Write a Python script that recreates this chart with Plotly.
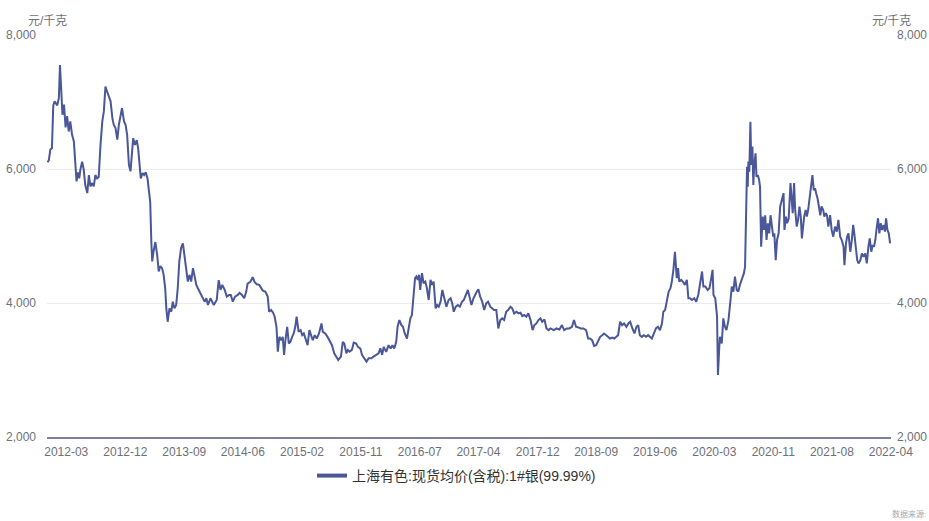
import plotly.graph_objects as go

# ---------------- data ----------------
series_name = "上海有色:现货均价(含税):1#银(99.99%)"
unit_label = "元/千克"
source_label = "数据来源:"

dates_2011 = ["2011-12-08", "2011-12-14", "2011-12-21", "2011-12-28"]
price_2011 = [6100, 6130, 6290, 6310]

dates_2012 = ["2012-01-03", "2012-01-09", "2012-01-21", "2012-01-28",
              "2012-02-02", "2012-02-08", "2012-02-13", "2012-02-20", "2012-02-27",
              "2012-03-05", "2012-03-12", "2012-03-19", "2012-03-27",
              "2012-04-04", "2012-04-11", "2012-04-16", "2012-04-22", "2012-04-28",
              "2012-05-03", "2012-05-11", "2012-05-18", "2012-05-25",
              "2012-06-03", "2012-06-10", "2012-06-17", "2012-06-25",
              "2012-07-02", "2012-07-09", "2012-07-17", "2012-07-24",
              "2012-08-01", "2012-08-09", "2012-08-16", "2012-08-23", "2012-08-30",
              "2012-09-08", "2012-09-15", "2012-09-23", "2012-09-29",
              "2012-10-07", "2012-10-15", "2012-10-22", "2012-10-29",
              "2012-11-05", "2012-11-14", "2012-11-21", "2012-11-28",
              "2012-12-06", "2012-12-13", "2012-12-18", "2012-12-25"]
price_2012 = [6950, 7010, 6950, 7060,
              7550, 7160, 6810, 6960, 6620,
              6790, 6560, 6710, 6510,
              6410, 6110, 5815, 5950, 5860,
              5990, 6110, 5990, 5760,
              5640, 5910, 5740, 5790,
              5740, 5910, 5860, 5880,
              6360, 6710, 6860, 7230, 7160,
              7080, 7010, 6760, 6660,
              6610, 6440, 6660, 6810,
              6910, 6710, 6660, 6510,
              6060, 5965, 6210, 6460]

dates_2013 = ["2013-01-02", "2013-01-10", "2013-01-16", "2013-01-23", "2013-01-28",
              "2013-02-05", "2013-02-12", "2013-02-19", "2013-02-27",
              "2013-03-04", "2013-03-11", "2013-03-16", "2013-03-20", "2013-03-26",
              "2013-04-03", "2013-04-11", "2013-04-18", "2013-04-25",
              "2013-05-03", "2013-05-10", "2013-05-17", "2013-05-22", "2013-05-28",
              "2013-06-05", "2013-06-13", "2013-06-20", "2013-06-27",
              "2013-07-05", "2013-07-12", "2013-07-19", "2013-07-27",
              "2013-08-04", "2013-08-11", "2013-08-19", "2013-08-26",
              "2013-09-03", "2013-09-10", "2013-09-18", "2013-09-25",
              "2013-10-03", "2013-10-10", "2013-10-17", "2013-10-25",
              "2013-11-02", "2013-11-09", "2013-11-17", "2013-11-24",
              "2013-12-05", "2013-12-20"]
price_2013 = [6360, 6430, 6310, 5990, 5860,
              5940, 5910, 5950, 5860,
              5710, 5510, 4910, 4620, 4770,
              4910, 4720, 4470, 4550,
              4520, 4420, 4220, 3920, 3720,
              3920, 3870, 4020, 3920,
              3970, 4220, 4620, 4820,
              4890, 4720, 4470, 4320,
              4420, 4320, 4520, 4420,
              4270, 4220, 4170, 4120,
              4070, 4020, 4070, 3970,
              4070, 3970]

dates_2014 = ["2014-01-02", "2014-01-11", "2014-01-19", "2014-01-27",
              "2014-02-07", "2014-02-16", "2014-02-26",
              "2014-03-06", "2014-03-15", "2014-03-25",
              "2014-04-06", "2014-04-14", "2014-04-25",
              "2014-05-05", "2014-05-14", "2014-05-20",
              "2014-06-01", "2014-06-12", "2014-06-20", "2014-06-30",
              "2014-07-11", "2014-07-20", "2014-07-27",
              "2014-08-07", "2014-08-18", "2014-08-24",
              "2014-09-02", "2014-09-11", "2014-09-18", "2014-09-26",
              "2014-10-02", "2014-10-09", "2014-10-17", "2014-10-24", "2014-10-30",
              "2014-11-05", "2014-11-13", "2014-11-20", "2014-11-27",
              "2014-12-05", "2014-12-12", "2014-12-19", "2014-12-25"]
price_2014 = [4045, 4340, 4195, 4270,
              4195, 4095, 4120,
              4120, 4020, 4095,
              4120, 4150, 4120,
              4070, 4170, 4290,
              4315, 4385, 4315, 4280,
              4270, 4220, 4185,
              4170, 4095, 3870,
              3895, 3855, 3795, 3645,
              3275, 3495, 3445, 3495, 3225,
              3445, 3645, 3395, 3420,
              3495, 3545, 3645, 3795]

dates_2015 = ["2015-01-03", "2015-01-12", "2015-01-19", "2015-01-26",
              "2015-02-05", "2015-02-12", "2015-02-20", "2015-02-28",
              "2015-03-07", "2015-03-16", "2015-03-25",
              "2015-04-04", "2015-04-10", "2015-04-15", "2015-04-21",
              "2015-05-02", "2015-05-12", "2015-05-20",
              "2015-06-01", "2015-06-11", "2015-06-20", "2015-06-29",
              "2015-07-11", "2015-07-19", "2015-07-26",
              "2015-08-04", "2015-08-11", "2015-08-18", "2015-08-29",
              "2015-09-06", "2015-09-17", "2015-09-25",
              "2015-10-06", "2015-10-13", "2015-10-23",
              "2015-11-02", "2015-11-12", "2015-11-23",
              "2015-12-04", "2015-12-16", "2015-12-26"]
price_2015 = [3570, 3595, 3520, 3545,
              3445, 3370, 3595, 3520,
              3445, 3520, 3470,
              3545, 3645, 3695, 3570,
              3545, 3495, 3445,
              3370, 3250, 3200, 3150,
              3200, 3420, 3395,
              3250, 3300, 3275, 3300,
              3410, 3395, 3345,
              3320, 3225, 3175,
              3125, 3175, 3175,
              3200, 3225, 3250]

dates_2016 = ["2016-01-03", "2016-01-11", "2016-01-18", "2016-01-29",
              "2016-02-09", "2016-02-18", "2016-02-26",
              "2016-03-05", "2016-03-14", "2016-03-20", "2016-03-28",
              "2016-04-06", "2016-04-13", "2016-04-21",
              "2016-05-01", "2016-05-10", "2016-05-16", "2016-05-23", "2016-05-30",
              "2016-06-06", "2016-06-12", "2016-06-18", "2016-06-24", "2016-06-29",
              "2016-07-07", "2016-07-14", "2016-07-22", "2016-07-29",
              "2016-08-06", "2016-08-14", "2016-08-21", "2016-08-28",
              "2016-09-06", "2016-09-13", "2016-09-20", "2016-09-28",
              "2016-10-06", "2016-10-15", "2016-10-24",
              "2016-11-03", "2016-11-12", "2016-11-19", "2016-11-26",
              "2016-12-05", "2016-12-14", "2016-12-23"]
price_2016 = [3325, 3225, 3345, 3270,
              3370, 3320, 3370,
              3320, 3420, 3645, 3745,
              3670, 3645, 3545,
              3470, 3645, 3770, 3820, 4095,
              4370, 4395, 4345, 4420, 4195,
              4445, 4295, 4320, 4220,
              4045, 4345, 4270, 4320,
              3920, 3970, 3945, 4020,
              4195, 4070, 3945,
              4045, 4070, 3995, 3870,
              3945, 3970, 3945]

dates_2017 = ["2017-01-02", "2017-01-10", "2017-01-19", "2017-01-28",
              "2017-02-04", "2017-02-13", "2017-02-22", "2017-02-28",
              "2017-03-09", "2017-03-16", "2017-03-24",
              "2017-04-02", "2017-04-11", "2017-04-20", "2017-04-28",
              "2017-05-08", "2017-05-17", "2017-05-25",
              "2017-06-04", "2017-06-13", "2017-06-22", "2017-06-30",
              "2017-07-09", "2017-07-18", "2017-07-27",
              "2017-08-06", "2017-08-14", "2017-08-23",
              "2017-09-02", "2017-09-11", "2017-09-20", "2017-09-28",
              "2017-10-07", "2017-10-16", "2017-10-25",
              "2017-11-04", "2017-11-13", "2017-11-21", "2017-11-30",
              "2017-12-09", "2017-12-18", "2017-12-26"]
price_2017 = [4020, 4045, 4120, 4195,
              4095, 3970, 4070, 4120,
              4170, 4205, 4095,
              4020, 3895, 3995, 4020,
              3945, 3920, 3895,
              3895, 3620, 3745, 3770,
              3745, 3870, 3895,
              3945, 3920, 3845,
              3870, 3845, 3855, 3805,
              3820, 3795, 3845,
              3745, 3595, 3670, 3695,
              3745, 3770, 3720]

dates_2018 = ["2018-01-05", "2018-01-14", "2018-01-23",
              "2018-02-01", "2018-02-16", "2018-02-28",
              "2018-03-13", "2018-03-24",
              "2018-04-03", "2018-04-15", "2018-04-26",
              "2018-05-08", "2018-05-17", "2018-05-26",
              "2018-06-06", "2018-06-16", "2018-06-28",
              "2018-07-10", "2018-07-19", "2018-07-27",
              "2018-08-06", "2018-08-15", "2018-08-24",
              "2018-09-02", "2018-09-11", "2018-09-20", "2018-09-28",
              "2018-10-08", "2018-10-17", "2018-10-25",
              "2018-11-04", "2018-11-13", "2018-11-22", "2018-11-30",
              "2018-12-09", "2018-12-18", "2018-12-27"]
price_2018 = [3755, 3620, 3595,
              3620, 3595, 3620,
              3605, 3670,
              3595, 3620, 3620,
              3645, 3745, 3645,
              3635, 3620, 3620,
              3595, 3470, 3470,
              3445, 3360, 3370,
              3445, 3495, 3520, 3545,
              3520, 3495, 3470,
              3485, 3470, 3495, 3520,
              3720, 3670, 3695]

dates_2019 = ["2019-01-06", "2019-01-15", "2019-01-23",
              "2019-02-02", "2019-02-11", "2019-02-20", "2019-02-28",
              "2019-03-07", "2019-03-16", "2019-03-25",
              "2019-04-04", "2019-04-13", "2019-04-21", "2019-04-30",
              "2019-05-09", "2019-05-18", "2019-05-27",
              "2019-06-05", "2019-06-14", "2019-06-20", "2019-06-28",
              "2019-07-08", "2019-07-14", "2019-07-22", "2019-07-28",
              "2019-08-04", "2019-08-11", "2019-08-19", "2019-08-25", "2019-08-30",
              "2019-09-08", "2019-09-15", "2019-09-24",
              "2019-10-03", "2019-10-10", "2019-10-17", "2019-10-26",
              "2019-11-05", "2019-11-14", "2019-11-23",
              "2019-12-01", "2019-12-10", "2019-12-16", "2019-12-25"]
price_2019 = [3645, 3695, 3720,
              3620, 3545, 3645, 3670,
              3520, 3495, 3520,
              3495, 3520, 3495, 3470,
              3545, 3620, 3645,
              3595, 3695, 3870, 3895,
              4070, 4170, 4220, 4320,
              4495, 4765, 4370, 4520, 4320,
              4345, 4320, 4270,
              4345, 4070, 4070, 4045,
              4070, 4020, 4120,
              4320, 4470, 4245, 4245]

dates_2020 = ["2020-01-04", "2020-01-12", "2020-01-20", "2020-01-26", "2020-01-30",
              "2020-02-07", "2020-02-15", "2020-02-19", "2020-02-25", "2020-02-28",
              "2020-03-07", "2020-03-14", "2020-03-21", "2020-03-28",
              "2020-04-06", "2020-04-13", "2020-04-21", "2020-04-28",
              "2020-05-05", "2020-05-13", "2020-05-20", "2020-05-27",
              "2020-06-05", "2020-06-14", "2020-06-19", "2020-06-24", "2020-06-28",
              "2020-07-01", "2020-07-04", "2020-07-08", "2020-07-13", "2020-07-17",
              "2020-07-22", "2020-07-26", "2020-07-30",
              "2020-08-05", "2020-08-09", "2020-08-15", "2020-08-21", "2020-08-25", "2020-08-30",
              "2020-09-06", "2020-09-12", "2020-09-17", "2020-09-23", "2020-09-29",
              "2020-10-05", "2020-10-11", "2020-10-17", "2020-10-23", "2020-10-28",
              "2020-11-03", "2020-11-09", "2020-11-16", "2020-11-23",
              "2020-12-01", "2020-12-08", "2020-12-12", "2020-12-19", "2020-12-24", "2020-12-31"]
price_2020 = [4195, 4220, 4370, 4495, 4120,
              4070, 3800, 2925, 3345, 3495,
              3395, 3770, 3645, 3595,
              3745, 4045, 4245, 4170,
              4395, 4195, 4170, 4270,
              4345, 4445, 4540, 5290, 6035,
              5735, 6110, 5960, 6705, 6060,
              6335, 5760, 6060,
              6235, 5885, 5910, 5835, 5735, 4840,
              5290, 5090, 5310, 4940, 5190,
              5040, 5310, 5140, 4990, 5040,
              4640, 4940, 5040, 5440,
              5560, 5640, 5090, 5290, 5190, 5260]

dates_2021 = ["2021-01-08", "2021-01-12", "2021-01-18", "2021-01-24", "2021-01-29",
              "2021-02-05", "2021-02-11", "2021-02-17", "2021-02-23", "2021-02-28",
              "2021-03-05", "2021-03-10", "2021-03-17", "2021-03-22", "2021-03-28",
              "2021-04-04", "2021-04-10", "2021-04-16", "2021-04-22", "2021-04-28",
              "2021-05-03", "2021-05-09", "2021-05-15", "2021-05-21", "2021-05-27",
              "2021-06-03", "2021-06-08", "2021-06-15", "2021-06-20", "2021-06-26",
              "2021-07-04", "2021-07-11", "2021-07-18", "2021-07-26",
              "2021-08-03", "2021-08-10", "2021-08-18", "2021-08-25",
              "2021-09-02", "2021-09-06", "2021-09-13", "2021-09-18", "2021-09-24",
              "2021-10-02", "2021-10-09", "2021-10-15", "2021-10-20", "2021-10-27",
              "2021-11-02", "2021-11-08", "2021-11-16", "2021-11-23", "2021-11-30",
              "2021-12-08", "2021-12-15", "2021-12-22", "2021-12-28"]
price_2021 = [5790, 5540, 5340, 5790, 5390,
              5140, 5240, 5440, 5290, 4965,
              5190, 5290, 5390, 5290, 5390,
              5585, 5660, 5910, 5685, 5710,
              5635, 5560, 5440, 5310, 5440,
              5390, 5290, 5340, 5310, 5140,
              5310, 5090, 4990, 5140,
              5065, 5240, 4990, 4940,
              4840, 4565, 4890, 4990, 5040,
              4765, 4940, 5165, 5040, 4840,
              4640, 4590, 4640, 4740, 4690,
              4740, 4590, 4840, 4965]

dates_2022 = ["2022-01-04", "2022-01-10", "2022-01-16", "2022-01-22", "2022-01-27",
              "2022-02-03", "2022-02-09", "2022-02-15", "2022-02-21", "2022-02-28",
              "2022-03-06", "2022-03-11", "2022-03-17", "2022-03-23", "2022-03-29"]
price_2022 = [4765, 4865, 4840, 4940, 5090,
              5265, 5040, 5190, 5090, 5165,
              5065, 5265, 5090, 5040, 4890]

# category labels shown under the x axis (evenly spaced, as in the reference)
tick_labels = ["2012-03", "2012-12", "2013-09", "2014-06", "2015-02", "2015-11",
               "2016-07", "2017-04", "2017-12", "2018-09", "2019-06", "2020-03",
               "2020-11", "2021-08", "2022-04"]
tick_dates = ["2012-03-01", "2012-11-20", "2013-08-10", "2014-04-29", "2015-01-18",
              "2015-10-08", "2016-06-27", "2017-03-16", "2017-12-06", "2018-08-24",
              "2019-05-14", "2020-02-03", "2020-10-23", "2021-07-12", "2022-04-01"]
x_range = ["2011-12-06", "2022-04-02"]

y_ticks = [2000, 4000, 6000, 8000]
y_range = [2000, 8000]

dates = (dates_2011 + dates_2012 + dates_2013 + dates_2014 + dates_2015 + dates_2016
         + dates_2017 + dates_2018 + dates_2019 + dates_2020 + dates_2021 + dates_2022)
prices = (price_2011 + price_2012 + price_2013 + price_2014 + price_2015 + price_2016
          + price_2017 + price_2018 + price_2019 + price_2020 + price_2021 + price_2022)

# ---------------- style ----------------
LINE_COLOR = "#4A5799"
AXIS_TEXT = "#6E7079"
GRID = "#E9ECF4"
FONT = "Liberation Sans, Arial, Noto Sans CJK SC, sans-serif"

fig = go.Figure()
fig.add_trace(go.Scatter(
    x=dates, y=prices, mode="lines", name=series_name,
    line=dict(color=LINE_COLOR, width=2), showlegend=False,
))
# legend entry (thicker swatch as in the reference)
fig.add_trace(go.Scatter(
    x=[None], y=[None], mode="lines", name=series_name, yaxis="y2",
    line=dict(color=LINE_COLOR, width=4), showlegend=True,
))

fig.update_layout(
    width=929, height=521,
    margin=dict(l=46.5, r=38, t=34.5, b=84, pad=0, autoexpand=False),
    paper_bgcolor="white", plot_bgcolor="white",
    font=dict(family=FONT, size=12, color=AXIS_TEXT),
    xaxis=dict(
        type="date", range=x_range, automargin=False,
        tickmode="array", tickvals=tick_dates, ticktext=tick_labels,
        showgrid=False, zeroline=False,
        showline=True, linecolor="#7C7F9E", linewidth=2,
        ticks="", ticklabelstandoff=3,
        tickfont=dict(size=12, color=AXIS_TEXT),
    ),
    yaxis=dict(
        range=y_range, tickmode="array", tickvals=y_ticks, tickformat=",",
        automargin=False,
        showgrid=True, gridcolor=GRID, gridwidth=1, zeroline=False,
        showline=False, ticks="", ticklabelstandoff=10,
        tickfont=dict(size=12, color=AXIS_TEXT),
    ),
    yaxis2=dict(
        range=y_range, tickmode="array", tickvals=y_ticks, tickformat=",",
        overlaying="y", side="right", matches="y", automargin=False,
        showgrid=False, zeroline=False, showline=False, ticks="",
        ticklabelstandoff=5,
        tickfont=dict(size=12, color=AXIS_TEXT),
    ),
    legend=dict(
        orientation="h", x=0.314, y=-0.097, xanchor="left", yanchor="middle",
        font=dict(size=14, color="#333333", family=FONT),
        bgcolor="rgba(0,0,0,0)", itemwidth=30,
    ),
    annotations=[
        dict(text=unit_label, xref="paper", yref="paper", x=0, y=1.036,
             xanchor="center", yanchor="middle", showarrow=False,
             font=dict(size=12, color=AXIS_TEXT)),
        dict(text=unit_label, xref="paper", yref="paper", x=1, y=1.036,
             xanchor="center", yanchor="middle", showarrow=False,
             font=dict(size=12, color=AXIS_TEXT)),
        dict(text=source_label, xref="paper", yref="paper", x=1.0213, y=-0.1913,
             xanchor="center", yanchor="middle", showarrow=False,
             font=dict(size=8, color="#AAAAAA")),
    ],
)

fig.write_html("out.html", config={"displayModeBar": False},
               post_script="document.body.style.margin='0px';")
